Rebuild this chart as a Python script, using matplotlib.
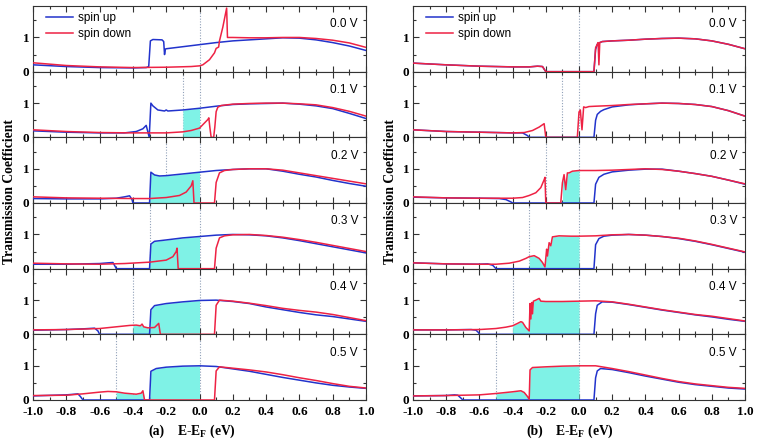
import numpy as np
import matplotlib
matplotlib.use("Agg")
import matplotlib.pyplot as plt
from matplotlib.ticker import MultipleLocator, FixedLocator

plt.rcParams["axes.unicode_minus"] = False
plt.rcParams["mathtext.fontset"] = "custom"
plt.rcParams["mathtext.bf"] = "Liberation Serif:bold"
plt.rcParams["mathtext.rm"] = "Liberation Serif"

# ---------------- data ----------------
bias_labels = ["0.0 V", "0.1 V", "0.2 V", "0.3 V", "0.4 V", "0.5 V"]
bias_values = [0.0, 0.1, 0.2, 0.3, 0.4, 0.5]
fill_start_a = [None, -0.1, -0.3, -0.3, -0.4, -0.5]
fill_start_b = [None, None, -0.1, -0.3, -0.4, -0.5]
x_ticks = [-1.0, -0.8, -0.6, -0.4, -0.2, 0.0, 0.2, 0.4, 0.6, 0.8, 1.0]
y_ticks = [0, 1]

# panel (a)
a0_up = [(-1.0, 0.2), (-0.8, 0.15), (-0.6, 0.12), (-0.4, 0.11), (-0.32, 0.12), (-0.305, 0.15),
         (-0.295, 0.9), (-0.28, 0.94), (-0.225, 0.93), (-0.215, 0.88), (-0.21, 0.5), (-0.205, 0.66),
         (-0.2, 0.67), (-0.1, 0.73), (0.0, 0.79), (0.1, 0.85), (0.2, 0.9), (0.3, 0.93), (0.4, 0.96),
         (0.5, 0.99), (0.6, 0.98), (0.7, 0.93), (0.8, 0.85), (0.9, 0.75), (1.0, 0.62)]
a0_dn = [(-1.0, 0.26), (-0.8, 0.18), (-0.6, 0.14), (-0.4, 0.12), (-0.2, 0.13), (-0.05, 0.15),
         (0.0, 0.17), (0.02, 0.2), (0.06, 0.35), (0.09, 0.55), (0.1, 0.68), (0.115, 0.72),
         (0.12, 0.9), (0.14, 1.3), (0.163, 1.86), (0.168, 1.0), (0.2, 1.0), (0.3, 0.99), (0.4, 0.99),
         (0.5, 1.0), (0.6, 1.0), (0.7, 0.97), (0.8, 0.92), (0.9, 0.84), (1.0, 0.71)]
a1_up = [(-1.0, 0.19), (-0.8, 0.15), (-0.6, 0.13), (-0.45, 0.13), (-0.38, 0.17), (-0.34, 0.25),
         (-0.32, 0.35), (-0.302, 0.0), (-0.292, 1.0), (-0.28, 0.92), (-0.25, 0.8), (-0.21, 0.77),
         (-0.2, 0.8), (-0.19, 0.77), (-0.1, 0.8), (0.0, 0.85), (0.1, 0.91), (0.2, 0.96), (0.3, 0.98),
         (0.4, 0.99), (0.5, 1.0), (0.6, 0.97), (0.7, 0.92), (0.8, 0.84), (0.9, 0.7), (1.0, 0.55)]
a1_dn = [(-1.0, 0.22), (-0.8, 0.17), (-0.6, 0.14), (-0.4, 0.13), (-0.2, 0.13), (-0.1, 0.16),
         (-0.05, 0.2), (0.0, 0.27), (0.03, 0.42), (0.05, 0.52), (0.056, 0.57), (0.062, 0.3),
         (0.07, 0.0), (0.085, 0.0), (0.092, 0.3), (0.1, 0.75), (0.11, 0.88), (0.13, 0.93),
         (0.2, 0.97), (0.3, 0.99), (0.4, 1.0), (0.5, 1.0), (0.6, 0.98), (0.7, 0.95), (0.8, 0.87),
         (0.9, 0.76), (1.0, 0.62)]
a2_up = [(-1.0, 0.13), (-0.8, 0.12), (-0.6, 0.12), (-0.5, 0.14), (-0.45, 0.18), (-0.42, 0.21),
         (-0.405, 0.1), (-0.4, 0.0), (-0.3, 0.0), (-0.292, 0.9), (-0.27, 0.82), (-0.24, 0.79),
         (-0.2, 0.8), (-0.1, 0.85), (0.0, 0.9), (0.1, 0.95), (0.2, 0.98), (0.3, 1.0), (0.4, 1.0),
         (0.5, 0.93), (0.6, 0.84), (0.7, 0.76), (0.8, 0.66), (0.9, 0.57), (1.0, 0.49)]
a2_dn = [(-1.0, 0.18), (-0.8, 0.15), (-0.6, 0.14), (-0.4, 0.13), (-0.3, 0.13), (-0.2, 0.16),
         (-0.12, 0.22), (-0.08, 0.32), (-0.05, 0.5), (-0.04, 0.65), (-0.033, 0.0), (0.09, 0.0),
         (0.1, 0.6), (0.12, 0.88), (0.15, 0.95), (0.2, 0.98), (0.3, 1.0), (0.4, 1.0), (0.5, 0.96),
         (0.6, 0.88), (0.7, 0.8), (0.8, 0.72), (0.9, 0.64), (1.0, 0.56)]
a3_up = [(-1.0, 0.13), (-0.8, 0.13), (-0.6, 0.15), (-0.55, 0.17), (-0.52, 0.18), (-0.505, 0.05),
         (-0.5, 0.0), (-0.3, 0.0), (-0.292, 0.72), (-0.27, 0.8), (-0.2, 0.84), (-0.1, 0.9),
         (0.0, 0.94), (0.1, 0.98), (0.2, 1.0), (0.3, 0.99), (0.4, 0.96), (0.5, 0.9), (0.6, 0.82),
         (0.7, 0.73), (0.8, 0.64), (0.9, 0.55), (1.0, 0.46)]
a3_dn = [(-1.0, 0.16), (-0.8, 0.14), (-0.6, 0.13), (-0.45, 0.15), (-0.3, 0.19), (-0.2, 0.25),
         (-0.16, 0.35), (-0.14, 0.5), (-0.135, 0.6), (-0.128, 0.0), (0.09, 0.0), (0.1, 0.6),
         (0.12, 0.9), (0.15, 0.96), (0.2, 0.99), (0.3, 1.0), (0.4, 0.97), (0.5, 0.92), (0.6, 0.85),
         (0.7, 0.77), (0.8, 0.68), (0.9, 0.59), (1.0, 0.5)]
a4_up = [(-1.0, 0.12), (-0.8, 0.14), (-0.7, 0.16), (-0.63, 0.18), (-0.61, 0.1), (-0.6, 0.0),
         (-0.3, 0.0), (-0.292, 0.72), (-0.27, 0.84), (-0.2, 0.9), (-0.1, 0.95), (0.0, 0.99),
         (0.1, 1.0), (0.2, 0.96), (0.3, 0.9), (0.4, 0.8), (0.5, 0.72), (0.6, 0.64), (0.7, 0.57),
         (0.8, 0.52), (0.9, 0.45), (1.0, 0.38)]
a4_dn = [(-1.0, 0.13), (-0.8, 0.14), (-0.6, 0.17), (-0.5, 0.22), (-0.42, 0.26), (-0.38, 0.27),
         (-0.355, 0.25), (-0.345, 0.3), (-0.335, 0.22), (-0.31, 0.19), (-0.27, 0.2), (-0.245, 0.32),
         (-0.235, 0.0), (0.09, 0.0), (0.1, 0.85), (0.12, 1.0), (0.2, 0.97), (0.3, 0.91), (0.4, 0.84),
         (0.5, 0.76), (0.6, 0.7), (0.7, 0.65), (0.8, 0.58), (0.9, 0.49), (1.0, 0.4)]
a5_up = [(-1.0, 0.12), (-0.8, 0.15), (-0.75, 0.17), (-0.73, 0.18), (-0.715, 0.1), (-0.7, 0.0),
         (-0.3, 0.0), (-0.292, 0.84), (-0.26, 0.92), (-0.2, 0.96), (-0.1, 0.99), (0.0, 1.0),
         (0.1, 0.98), (0.2, 0.91), (0.3, 0.84), (0.4, 0.75), (0.5, 0.66), (0.6, 0.58), (0.7, 0.5),
         (0.8, 0.43), (0.9, 0.38), (1.0, 0.34)]
a5_dn = [(-1.0, 0.13), (-0.8, 0.14), (-0.7, 0.18), (-0.6, 0.23), (-0.55, 0.25), (-0.5, 0.24),
         (-0.45, 0.2), (-0.38, 0.17), (-0.35, 0.2), (-0.34, 0.27), (-0.33, 0.0), (0.09, 0.0),
         (0.1, 0.85), (0.12, 0.97), (0.2, 0.93), (0.3, 0.88), (0.4, 0.82), (0.5, 0.74), (0.6, 0.65),
         (0.7, 0.57), (0.8, 0.48), (0.9, 0.4), (1.0, 0.35)]

# panel (b)
b0_up = [(-1.0, 0.25), (-0.8, 0.2), (-0.6, 0.16), (-0.4, 0.14), (-0.3, 0.14), (-0.25, 0.16),
         (-0.22, 0.15), (-0.2, 0.0), (0.09, 0.0), (0.1, 0.65), (0.11, 0.8), (0.125, 0.85),
         (0.14, 0.88), (0.2, 0.9), (0.3, 0.92), (0.4, 0.95), (0.5, 0.97), (0.6, 0.98), (0.7, 0.96),
         (0.8, 0.9), (0.9, 0.8), (1.0, 0.67)]
b0_dn = [(-1.0, 0.25), (-0.8, 0.2), (-0.6, 0.16), (-0.4, 0.14), (-0.3, 0.14), (-0.25, 0.16),
         (-0.22, 0.15), (-0.2, 0.0), (0.09, 0.0), (0.1, 0.7), (0.11, 0.8), (0.115, 0.85),
         (0.12, 0.2), (0.125, 0.85), (0.14, 0.88), (0.2, 0.9), (0.3, 0.92), (0.4, 0.95), (0.5, 0.97),
         (0.6, 0.98), (0.7, 0.96), (0.8, 0.9), (0.9, 0.8), (1.0, 0.67)]
b1_up = [(-1.0, 0.22), (-0.8, 0.17), (-0.6, 0.15), (-0.4, 0.13), (-0.34, 0.13), (-0.31, 0.05),
         (-0.3, 0.0), (0.09, 0.0), (0.1, 0.5), (0.11, 0.67), (0.13, 0.76), (0.15, 0.81),
         (0.2, 0.89), (0.3, 0.95), (0.4, 0.98), (0.5, 1.0), (0.6, 0.99), (0.7, 0.96), (0.8, 0.9),
         (0.9, 0.78), (1.0, 0.62)]
b1_dn = [(-1.0, 0.22), (-0.8, 0.17), (-0.6, 0.15), (-0.4, 0.13), (-0.33, 0.14), (-0.28, 0.2),
         (-0.24, 0.3), (-0.21, 0.4), (-0.2, 0.0), (-0.01, 0.0), (0.0, 0.74), (0.008, 0.8),
         (0.018, 0.22), (0.028, 0.89), (0.04, 0.87), (0.06, 0.9), (0.1, 0.91), (0.2, 0.93),
         (0.3, 0.96), (0.4, 0.98), (0.5, 1.0), (0.6, 0.99), (0.7, 0.96), (0.8, 0.9), (0.9, 0.78),
         (1.0, 0.62)]
b2_up = [(-1.0, 0.17), (-0.8, 0.15), (-0.6, 0.14), (-0.48, 0.13), (-0.44, 0.1), (-0.41, 0.03),
         (-0.4, 0.0), (0.09, 0.0), (0.1, 0.55), (0.12, 0.75), (0.15, 0.84), (0.2, 0.91), (0.3, 0.96),
         (0.4, 0.99), (0.5, 0.99), (0.6, 0.93), (0.7, 0.86), (0.8, 0.78), (0.9, 0.67), (1.0, 0.55)]
b2_dn = [(-1.0, 0.18), (-0.8, 0.15), (-0.6, 0.14), (-0.4, 0.14), (-0.34, 0.16), (-0.3, 0.22),
         (-0.26, 0.3), (-0.23, 0.45), (-0.21, 0.68), (-0.205, 0.75), (-0.2, 0.0), (-0.11, 0.0),
         (-0.1, 0.59), (-0.09, 0.83), (-0.08, 0.39), (-0.07, 0.88), (-0.06, 0.88), (-0.04, 0.93),
         (0.0, 0.95), (0.1, 0.95), (0.2, 0.96), (0.3, 0.98), (0.4, 1.0), (0.5, 0.98), (0.6, 0.93),
         (0.7, 0.86), (0.8, 0.78), (0.9, 0.67), (1.0, 0.56)]
b3_up = [(-1.0, 0.17), (-0.8, 0.14), (-0.6, 0.13), (-0.55, 0.14), (-0.52, 0.1), (-0.5, 0.0),
         (0.09, 0.0), (0.1, 0.7), (0.12, 0.88), (0.15, 0.95), (0.2, 0.98), (0.3, 1.0), (0.4, 0.98),
         (0.5, 0.94), (0.6, 0.88), (0.7, 0.8), (0.8, 0.7), (0.9, 0.59), (1.0, 0.48)]
b3_dn = [(-1.0, 0.17), (-0.8, 0.14), (-0.6, 0.13), (-0.5, 0.13), (-0.42, 0.16), (-0.36, 0.22),
         (-0.32, 0.3), (-0.3, 0.35), (-0.27, 0.38), (-0.24, 0.3), (-0.22, 0.18), (-0.205, 0.05),
         (-0.195, 0.57), (-0.19, 0.37), (-0.18, 0.76), (-0.17, 0.67), (-0.16, 0.93), (-0.12, 0.96),
         (-0.05, 0.95), (0.0, 0.95), (0.1, 0.96), (0.2, 0.99), (0.3, 1.0), (0.4, 0.98), (0.5, 0.94),
         (0.6, 0.89), (0.7, 0.81), (0.8, 0.71), (0.9, 0.6), (1.0, 0.49)]
b4_up = [(-1.0, 0.13), (-0.8, 0.13), (-0.65, 0.14), (-0.62, 0.12), (-0.605, 0.05), (-0.6, 0.0),
         (0.09, 0.0), (0.1, 0.6), (0.11, 0.85), (0.14, 0.95), (0.2, 0.94), (0.3, 0.87), (0.4, 0.79),
         (0.5, 0.71), (0.6, 0.64), (0.7, 0.57), (0.8, 0.51), (0.9, 0.44), (1.0, 0.38)]
b4_dn = [(-1.0, 0.13), (-0.8, 0.13), (-0.6, 0.14), (-0.5, 0.17), (-0.44, 0.21), (-0.4, 0.25),
         (-0.37, 0.32), (-0.35, 0.37), (-0.34, 0.35), (-0.32, 0.2), (-0.3, 0.1), (-0.295, 0.9),
         (-0.29, 0.45), (-0.285, 0.93), (-0.28, 0.6), (-0.275, 0.97), (-0.26, 1.0), (-0.24, 1.05),
         (-0.23, 0.97), (-0.2, 0.96), (-0.1, 0.96), (0.0, 0.97), (0.1, 0.98), (0.2, 0.95),
         (0.3, 0.88), (0.4, 0.8), (0.5, 0.72), (0.6, 0.65), (0.7, 0.58), (0.8, 0.53), (0.9, 0.46),
         (1.0, 0.39)]
b5_up = [(-1.0, 0.12), (-0.8, 0.13), (-0.75, 0.15), (-0.73, 0.14), (-0.71, 0.05), (-0.7, 0.0),
         (0.09, 0.0), (0.1, 0.65), (0.11, 0.85), (0.13, 0.92), (0.2, 0.89), (0.3, 0.8), (0.4, 0.7),
         (0.5, 0.61), (0.6, 0.52), (0.7, 0.45), (0.8, 0.4), (0.9, 0.35), (1.0, 0.32)]
b5_dn = [(-1.0, 0.12), (-0.8, 0.13), (-0.7, 0.14), (-0.6, 0.15), (-0.5, 0.19), (-0.4, 0.24),
         (-0.35, 0.27), (-0.33, 0.22), (-0.31, 0.1), (-0.3, 0.02), (-0.295, 0.88), (-0.28, 0.95),
         (-0.2, 0.97), (-0.1, 0.99), (0.0, 1.0), (0.1, 1.0), (0.2, 0.92), (0.3, 0.83), (0.4, 0.73),
         (0.5, 0.63), (0.6, 0.54), (0.7, 0.47), (0.8, 0.42), (0.9, 0.37), (1.0, 0.34)]

panel_a = [(a0_up, a0_dn), (a1_up, a1_dn), (a2_up, a2_dn), (a3_up, a3_dn), (a4_up, a4_dn), (a5_up, a5_dn)]
panel_b = [(b0_up, b0_dn), (b1_up, b1_dn), (b2_up, b2_dn), (b3_up, b3_dn), (b4_up, b4_dn), (b5_up, b5_dn)]

# ---------------- style ----------------
BLUE = "#2233cc"
RED = "#ee2244"
CYAN = "#7ff2e6"
SERIF_B = dict(family="Liberation Serif", weight="bold")
W, H = 758, 441
fig = plt.figure(figsize=(W / 100, H / 100), dpi=100)

top_px, bot_px = 6, 400
sub_h = (bot_px - top_px) / 6.0


def draw_panel(left_px, width_px, curves, fills, tag, label_x_px, xl_px):
    for i in range(6):
        ax = fig.add_axes([left_px / W, 1 - (top_px + (i + 1) * sub_h) / H, width_px / W, sub_h / H])
        up = np.array(curves[i][0])
        dn = np.array(curves[i][1])
        v = bias_values[i]
        for xv in sorted(set([-v, 0.0])):
            ax.axvline(xv, color="#90a0b8", lw=0.8, ls=(0, (1, 1.5)), zorder=1)
        if fills[i] is not None:
            xs = np.linspace(fills[i], 0.0, 600)
            top = np.maximum(np.interp(xs, up[:, 0], up[:, 1]), np.interp(xs, dn[:, 0], dn[:, 1]))
            ax.fill_between(xs, 0, top, color=CYAN, lw=0, zorder=2)
        ax.plot(up[:, 0], up[:, 1], color=BLUE, lw=1.1, zorder=3, label="spin up")
        ax.plot(dn[:, 0], dn[:, 1], color=RED, lw=1.1, zorder=4, label="spin down")
        ax.set_xlim(-1, 1)
        ax.set_ylim(0, 1.92)
        ax.xaxis.set_major_locator(FixedLocator(x_ticks))
        ax.xaxis.set_minor_locator(MultipleLocator(0.1))
        ax.yaxis.set_major_locator(FixedLocator(y_ticks))
        ax.yaxis.set_minor_locator(FixedLocator([0.5, 1.5]))
        ax.tick_params(which="both", direction="in", top=True, right=True, color="#333333", width=0.8)
        ax.tick_params(which="major", length=4.5)
        ax.tick_params(axis="y", which="major", pad=2.5)
        ax.tick_params(axis="x", which="major", pad=4.5)
        ax.tick_params(which="minor", length=2.5)
        for s in ax.spines.values():
            s.set_color("#333333")
            s.set_linewidth(0.8)
        ax.set_yticklabels([str(t) for t in y_ticks], fontsize=9.5, **SERIF_B)
        if i == 5:
            ax.set_xticklabels(["%.1f" % t for t in x_ticks], fontsize=9.5, **SERIF_B)
        else:
            ax.set_xticklabels([])
        ax.text(0.976, 0.72, bias_labels[i], transform=ax.transAxes, ha="right", va="center",
                fontsize=8.5, family="Liberation Sans")
        if i == 0:
            ax.legend(loc="upper left", bbox_to_anchor=(0.015, 1.03), frameon=False,
                      prop=dict(family="Liberation Sans", size=8.5), handlelength=2.3,
                      handletextpad=0.35, labelspacing=0.3, borderaxespad=0.3)
    fig.text(label_x_px / W, 1 - 192 / H, "Transmission Coefficient", rotation=90,
             ha="center", va="center", fontsize=9.8, **SERIF_B)
    fig.text(xl_px[0] / W, 1 - 431 / H, tag, ha="left", va="center", fontsize=9.8, **SERIF_B)
    fig.text(xl_px[1] / W, 1 - 431 / H, r"E-E$_{\mathbf{F}}$ (eV)", ha="left", va="center",
             fontsize=9.8, **SERIF_B)


draw_panel(33, 333, panel_a, fill_start_a, "(a)", 10, (148, 177))
draw_panel(413, 332, panel_b, fill_start_b, "(b)", 390, (526, 555))

fig.savefig("out.png", dpi=100)
